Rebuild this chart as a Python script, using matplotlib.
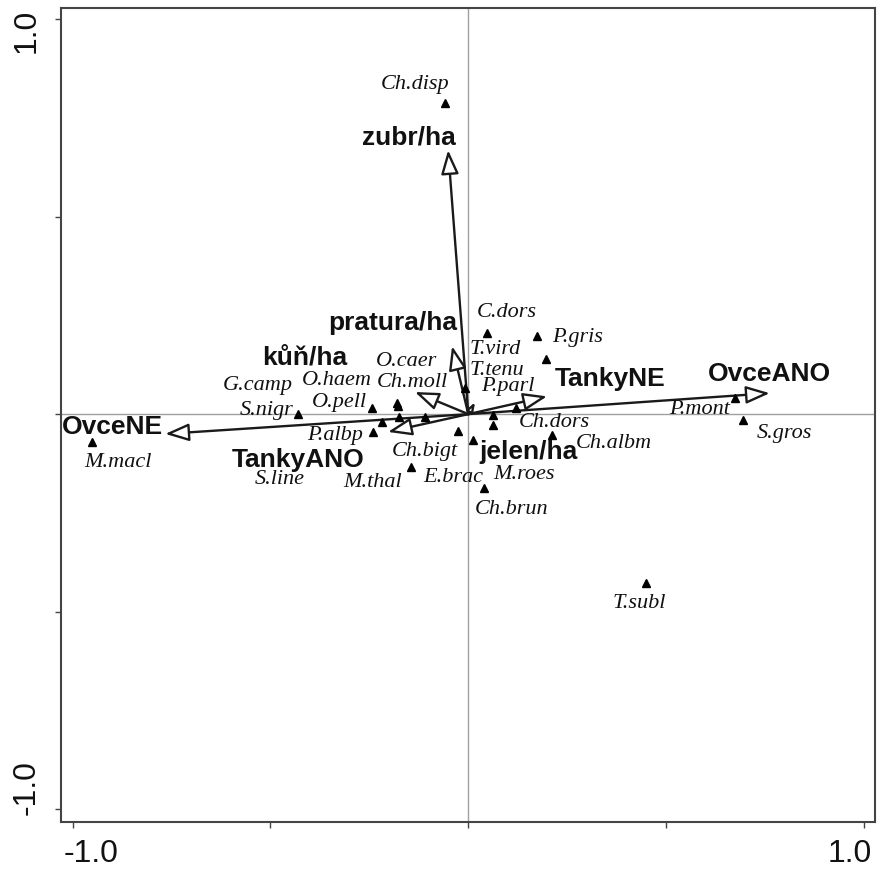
import matplotlib
matplotlib.use("Agg")
import matplotlib.pyplot as plt
from matplotlib.patches import FancyArrowPatch
import numpy as np

# Species scores (axis 1, axis 2)
species = ["Ch.disp", "C.dors", "P.gris", "T.vird", "T.tenu", "P.parl",
           "Ch.dors", "M.roes", "Ch.albm", "Ch.bigt", "E.brac", "Ch.brun",
           "P.mont", "S.gros", "T.subl", "M.macl", "S.nigr", "O.pell",
           "Ch.moll", "O.caer", "G.camp", "O.haem", "S.line", "P.albp",
           "M.thal"]
sp_x = [-0.058, 0.047, 0.174, 0.196, -0.008, 0.121,
        0.062, 0.062, 0.212, -0.026, 0.012, 0.040,
        0.674, 0.694, 0.449, -0.951, -0.430, -0.244,
        -0.178, -0.180, -0.218, -0.175, -0.109, -0.241,
        -0.145]
sp_y = [0.787, 0.206, 0.198, 0.140, 0.066, 0.016,
        -0.002, -0.028, -0.053, -0.043, -0.066, -0.187,
        0.041, -0.015, -0.428, -0.071, 0.000, 0.015,
        0.020, 0.028, -0.020, -0.007, -0.007, -0.046,
        -0.134]

# Environmental variables (arrow tips)
env = ["zubr/ha", "pratura/ha", "kůň/ha", "TankyANO", "OvceNE",
       "OvceANO", "TankyNE", "jelen/ha"]
env_x = [-0.051, -0.041, -0.135, -0.203, -0.766, 0.762, 0.199, 0.017]
env_y = [0.668, 0.172, 0.056, -0.045, -0.050, 0.053, 0.045, 0.030]

tick_vals = [-1.0, -0.5, 0.0, 0.5, 1.0]
labelled_ticks = [-1.0, 1.0]

# label placement (pixel offsets from the point)
sp_off = [(-30, 19), (20, 20), (40, -2), (-51, 9), (32, 18), (-8, 21),
          (62, -8), (31, -49), (62, -8), (-33, -20), (-20, -37), (27, -21),
          (-35, -12), (42, -13), (-7, -20), (26, -20), (-32, 4), (-32, 6),
          (14, 24), (9, 42), (-124, 37), (-62, 36), (-145, -63), (-38, -3),
          (-38, -15)]
env_off = [(-39, 13), (-59, 23), (-110, 35), (-90, -28), (-53, 7),
           (0, 19), (63, 17), (53, -50)]

W, H = 877, 869
fig = plt.figure(figsize=(W / 100, H / 100), dpi=100)
ax = fig.add_axes([61 / W, 47.3 / H, 814 / W, 813.7 / H])
ax.set_xlim(-1.0295, 1.028)
ax.set_ylim(-1.0313, 1.0277)

for s in ax.spines.values():
    s.set_color("#444444")
    s.set_linewidth(1.5)

ax.axhline(0, color="#a0a0a0", lw=1.0, zorder=1)
ax.axvline(0, color="#a0a0a0", lw=1.0, zorder=1)

ax.set_xticks(tick_vals)
ax.set_yticks(tick_vals)
ax.set_xticklabels([])
ax.set_yticklabels([])
ax.tick_params(direction="out", length=4, width=1.0, color="#444444")

tick_font = dict(family="Liberation Sans", fontsize=23, color="#111111")
for v in labelled_ticks:
    dx = 18 if v < 0 else -14
    ax.annotate(f"{v:.1f}", xy=(v, 0), xycoords=ax.get_xaxis_transform(),
                xytext=(dx, -32), textcoords="offset pixels",
                ha="center", va="center", **tick_font)
    dy = 22 if v < 0 else -12
    ax.annotate(f"{v:.1f}", xy=(0, v), xycoords=ax.get_yaxis_transform(),
                xytext=(-34, dy), textcoords="offset pixels",
                ha="center", va="center", rotation=90, **tick_font)

# species points
ax.plot(sp_x, sp_y, linestyle="none", marker="^", markersize=5.5,
        color="black", zorder=4)
for name, x, y, (ox, oy) in zip(species, sp_x, sp_y, sp_off):
    ax.annotate(name, xy=(x, y), xytext=(ox, oy), textcoords="offset pixels",
                ha="center", va="center", fontsize=16, style="italic",
                family="Liberation Serif", color="#111111", zorder=5)

# environmental arrows
for name, x, y, (ox, oy) in zip(env, env_x, env_y, env_off):
    length_px = np.hypot(x * 395.7, y * 395.2)
    hl = min(14.6, 0.55 * length_px * 0.72)
    hw = hl * 0.37
    arr = FancyArrowPatch((0, 0), (x, y),
                          arrowstyle=f"-|>,head_length={hl:.2f},head_width={hw:.2f}",
                          mutation_scale=1, shrinkA=0, shrinkB=0,
                          lw=1.7, ec="#1a1a1a", fc="white", zorder=3)
    ax.add_patch(arr)
    ax.annotate(name, xy=(x, y), xytext=(ox, oy), textcoords="offset pixels",
                ha="center", va="center", fontsize=19, fontweight="bold",
                family="Liberation Sans", color="#111111", zorder=5)

fig.savefig("out.png", dpi=100)
